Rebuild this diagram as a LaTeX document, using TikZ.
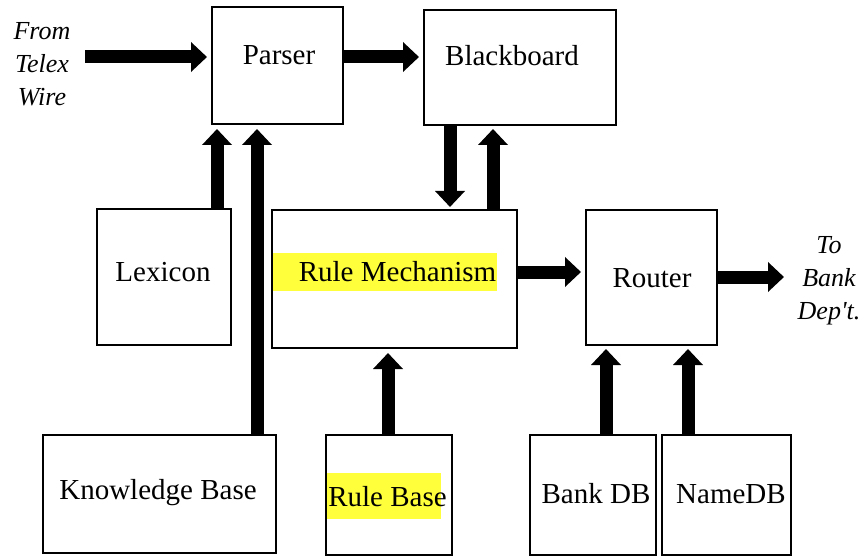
\documentclass[tikz,border=0pt]{standalone}
\usepackage{fontspec}
\setmainfont{Liberation Serif}
\usetikzlibrary{arrows.meta}
\definecolor{hilite}{RGB}{255,255,60}
\tikzset{
  blk/.style={draw=black, line width=2pt, rectangle, inner sep=0pt},
  lbl/.style={font=\fontsize{29}{32}\selectfont, inner sep=0pt},
  side/.style={font=\fontsize{26}{33}\selectfont\itshape, align=center, inner sep=0pt},
  fat/.style={line width=13pt, -{Triangle[length=16pt,width=29pt]}},
  hlbox/.style={fill=hilite, draw=none}
}
\begin{document}
\begin{tikzpicture}[x=1pt, y=-1pt]
\useasboundingbox (0,0) rectangle (864,556);

% boxes
\node[blk, minimum width=131pt, minimum height=117pt] (parser) at (277.5,65.5) {};
\node[blk, minimum width=192pt, minimum height=115pt] (board) at (520,67.5) {};
\node[blk, minimum width=134pt, minimum height=136pt] (lexicon) at (164,277) {};
\node[blk, minimum width=245pt, minimum height=138pt] (rulemech) at (394.5,279) {};
\node[blk, minimum width=131pt, minimum height=135pt] (router) at (651.5,277.5) {};
\node[blk, minimum width=233pt, minimum height=118pt] (kb) at (159.5,494) {};
\node[blk, minimum width=126pt, minimum height=120pt] (rulebase) at (389,495) {};
\node[blk, minimum width=126pt, minimum height=120pt] (bankdb) at (593,495) {};
\node[blk, minimum width=129pt, minimum height=120pt] (namedb) at (726.5,495) {};

% highlighted label backgrounds
\fill[hlbox] (273,253) rectangle (497,291);
\fill[hlbox] (327,473) rectangle (441,519);

% box labels
\node[lbl] (parsertxt) at (279,55) {Parser};
\node[lbl] (boardtxt) at (512,56) {Blackboard};
\node[lbl] (lexicontxt) at (163,272) {Lexicon};
\node[lbl] (rulemechtxt) at (397.5,272) {Rule Mechanism};
\node[lbl] (routertxt) at (652,278) {Router};
\node[lbl] (kbtxt) at (158,493) {Knowledge Base};
\node[lbl] (rulebasetxt) at (387.5,497) {Rule Base};
\node[lbl] (bankdbtxt) at (596,494) {Bank DB};
\node[lbl] (namedbtxt) at (731,494) {NameDB};

% outside labels
\node[side] (telex) at (42,64) {From\\Telex\\Wire};
\node[side] (dept) at (829,281) {To\\Bank\\Dep\textquotesingle t.};
\coordinate (inlet) at (85,57);
\coordinate (outlet) at (784,277);

% connectors
\draw[fat, shorten >=4pt] (inlet) -- ([yshift=8.5pt]parser.west);
\draw[fat, shorten >=4pt] ([yshift=8.5pt]parser.east) -- ([yshift=10.5pt]board.west);
\draw[fat, shorten >=2pt] ([xshift=-70pt]board.south) -- ([xshift=55.5pt]rulemech.north);
\draw[fat, shorten >=3pt] ([xshift=98.5pt]rulemech.north) -- ([xshift=-27pt]board.south);
\draw[fat, shorten >=4pt] ([xshift=53pt]lexicon.north) -- ([xshift=-60.5pt]parser.south);
\draw[fat, shorten >=4pt] ([xshift=97.5pt]kb.north) -- ([xshift=-20.5pt]parser.south);
\draw[fat, shorten >=4pt] ([xshift=-1pt]rulebase.north) -- ([xshift=-6.5pt]rulemech.south);
\draw[fat, shorten >=4pt] ([yshift=7pt]rulemech.east) -- ([yshift=5.5pt]router.west);
\draw[fat] ([yshift=0.5pt]router.east) -- (outlet);
\draw[fat, shorten >=3pt] ([xshift=13pt]bankdb.north) -- ([xshift=-45.5pt]router.south);
\draw[fat, shorten >=3pt] ([xshift=-38.5pt]namedb.north) -- ([xshift=36.5pt]router.south);
\end{tikzpicture}
\end{document}
